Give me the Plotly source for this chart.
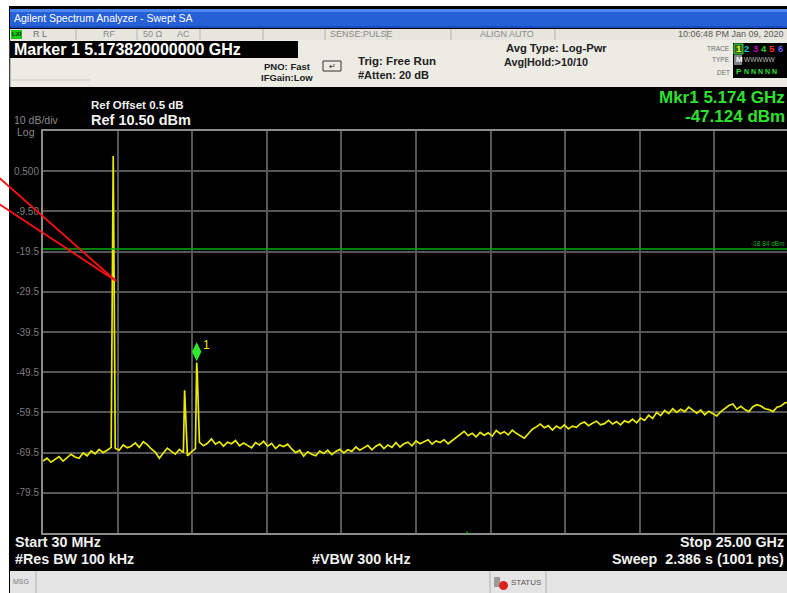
import numpy as np
import plotly.graph_objects as go

# ---------------- data ----------------
f_start_ghz = 0.03
f_stop_ghz = 25.0
ref_level_dbm = 10.5
db_per_div = 10
display_line_dbm = -18.84
marker_freq_ghz = 5.174
marker_level_dbm = -47.124

# swept noise floor (uniformly spaced from start to stop)
noise_dbm = [
    -71.6, -70.9, -71.9, -71.2, -70.5, -71.6, -70.8, -69.9, -70.6, -70.9,
    -69.6, -70.3, -69.1, -69.8, -68.7, -69.5, -68.9, -68.2, -68.4, -68.9,
    -67.6, -68.3, -67.9, -67.1, -68.2, -66.8, -67.5, -68.6, -69.4, -70.9,
    -69.6, -68.4, -69.2, -69.9, -68.7, -69.5, -70.3, -69.3, -68.5, -66.9,
    -67.8, -67.2, -66.1, -67.4, -66.8, -67.9, -66.9, -67.3, -66.5, -67.8,
    -67.1, -67.7, -68.3, -67.0, -67.6, -66.7, -67.9, -67.2, -68.5, -67.6,
    -68.0, -67.4, -68.6, -69.5, -68.9, -70.4, -69.3, -69.9, -70.3, -69.1,
    -69.7, -68.9, -70.0, -69.2, -68.7, -69.6, -68.8, -69.2, -68.1, -68.9,
    -68.4, -67.7, -68.8, -67.9, -67.4, -68.5, -67.6, -68.2, -67.0, -68.1,
    -67.3, -66.9, -67.8, -66.6, -67.3, -66.9, -66.3, -67.4, -66.6, -67.0,
    -66.3, -67.3, -66.5, -65.7, -64.8, -64.2, -65.3, -64.7, -65.6, -64.5,
    -65.2, -64.6, -65.4, -64.0, -64.8, -64.3, -65.1, -63.9, -64.7, -65.3,
    -65.9, -64.8, -63.7, -63.1, -62.4, -63.3, -62.8, -63.9, -62.9, -63.5,
    -62.6, -63.6, -62.9, -63.2, -62.3, -61.9, -62.8, -62.2, -61.7, -62.6,
    -62.3, -61.5, -62.4, -61.8, -62.6, -61.6, -62.0, -61.2, -62.1, -60.9,
    -61.5, -60.2, -61.0, -59.5, -60.3, -59.0, -59.8, -58.6, -59.5, -58.7,
    -59.3, -58.2, -59.0, -59.7, -58.9, -60.1, -59.2, -59.9, -60.4, -59.3,
    -58.5, -57.8, -57.4, -58.7, -58.0, -58.8, -59.3, -58.1, -57.6, -57.9,
    -58.6, -58.8, -59.3, -58.2, -57.9, -57.1, -57.0,
]
# spurious / carrier points
spike_freq_ghz = [2.380, 2.400, 2.410, 2.420, 2.435, 4.770, 5.174, 5.190]
spike_dbm = [4.3, -33.2, -34.0, -39.6, -52.5, -54.0, -47.124, -49.0]

y_tick_vals = [0.5, -9.5, -19.5, -29.5, -39.5, -49.5, -59.5, -69.5, -79.5]
y_tick_text = ["0.500", "-9.50", "-19.5", "-29.5", "-39.5", "-49.5", "-59.5", "-69.5", "-79.5"]

# ---------------- layout geometry ----------------
W, H = 787, 593
L, R, T, B = 43, 0, 131, 60
PW = W - L - R
PH = H - T - B
FONT = "Liberation Sans, Arial, sans-serif"


def px(x):
    return (x - L) / PW


def py(y):
    return (H - B - y) / PH


span = f_stop_ghz - f_start_ghz
n_div = 10
x_view_end = f_start_ghz + span * (PW / 746.0)  # right screen edge is slightly cut off
y_bottom = ref_level_dbm - n_div * db_per_div

noise_freq = np.linspace(f_start_ghz, f_stop_ghz, len(noise_dbm))
freq_all = np.concatenate([noise_freq, np.array(spike_freq_ghz)])
lvl_all = np.concatenate([np.array(noise_dbm), np.array(spike_dbm)])
order = np.argsort(freq_all)
freq_all = freq_all[order]
lvl_all = lvl_all[order]

shapes = []
annotations = []


def rect(x0, y0, x1, y1, fill, line_color=None, lw=0, layer="below"):
    shapes.append(dict(type="rect", xref="paper", yref="paper",
                       x0=px(x0), x1=px(x1), y0=py(y1), y1=py(y0),
                       fillcolor=fill, line=dict(color=line_color or fill, width=lw),
                       layer=layer))


def vline(x, y0, y1, color, w=1, layer="below"):
    shapes.append(dict(type="line", xref="paper", yref="paper",
                       x0=px(x), x1=px(x), y0=py(y0), y1=py(y1),
                       line=dict(color=color, width=w), layer=layer))


def seg(x0, y0, x1, y1, color, w=1, layer="above"):
    shapes.append(dict(type="line", xref="paper", yref="paper",
                       x0=px(x0), x1=px(x1), y0=py(y0), y1=py(y1),
                       line=dict(color=color, width=w), layer=layer))


def txt(x, y, s, size=10, color="white", anchor="left", bold=False, family=FONT):
    annotations.append(dict(x=px(x), y=py(y), xref="paper", yref="paper",
                            text=f"<b>{s}</b>" if bold else s, showarrow=False,
                            xanchor=anchor, yanchor="middle", borderpad=0,
                            font=dict(size=size, color=color, family=family)))


# window frame
rect(9, 6, 787, 593, "#000000")
# title bar
rect(10, 9, 787, 28, "#2660d6")
rect(10, 9, 787, 12, "#4d88ee")
rect(10, 26, 787, 28, "#1b4cbf")
txt(13, 18.5, "Agilent Spectrum Analyzer - Swept SA", size=10.5, color="white")
# status row
rect(10, 29, 787, 40, "#e6e5de")
for sx in [76, 137, 200, 263, 325, 387, 451, 555]:
    vline(sx, 29, 40, "#b4b4ac", 1)
rect(11, 30, 22, 39, "#18c818")
txt(11, 34.5, "LXI", size=6, color="#003300", bold=True)
txt(32, 34.5, "R L", size=9, color="#6e6e6e")
txt(102, 34.5, "RF", size=9, color="#8a8a8a")
txt(142, 34.5, "50 Ω", size=9, color="#8a8a8a")
txt(176, 34.5, "AC", size=9, color="#8a8a8a")
txt(329, 34.5, "SENSE:PULSE", size=9, color="#8a8a8a")
txt(479, 34.5, "ALIGN AUTO", size=9, color="#8a8a8a")
txt(785, 34.5, "10:06:48 PM Jan 09, 2020", size=9, color="#5a5a5a", anchor="right")
# info area
rect(10, 40, 787, 87, "#ecebe4")
vline(10, 40, 87, "#808080", 1)
rect(10, 41, 298, 58, "#000000")
txt(13, 49.5, "Marker 1 5.173820000000 GHz", size=16, color="white", bold=True)
seg(10, 80, 90, 80, "#c8c8c0", 1, layer="below")
txt(287, 66, "PNO: Fast", size=9.5, color="#222222", bold=True, anchor="center")
txt(287, 77, "IFGain:Low", size=9.5, color="#222222", bold=True, anchor="center")
shapes.append(dict(type="rect", xref="paper", yref="paper", x0=px(323), x1=px(341),
                   y0=py(71), y1=py(61), line=dict(color="#333333", width=1),
                   fillcolor="#ecebe4", layer="below"))
txt(332, 66.5, "↵", size=8, color="#222222", anchor="center")
txt(357, 61, "Trig: Free Run", size=11.5, color="#222222", bold=True)
txt(357, 75, "#Atten: 20 dB", size=11, color="#222222", bold=True)
txt(505, 48, "Avg Type: Log-Pwr", size=11.2, color="#222222", bold=True)
txt(503, 62, "Avg|Hold:>10/10", size=10.8, color="#222222", bold=True)
# trace box
txt(731, 48, "TRACE", size=6.5, color="#6a6a6a", anchor="right")
txt(731, 60, "TYPE", size=6.5, color="#6a6a6a", anchor="right")
txt(731, 72, "DET", size=6.5, color="#6a6a6a", anchor="right")
rect(733, 43, 787, 78, "#000000")
rect(734, 44, 743, 54, "#2a6a2a", "#40d040", 1)
for i, (d, c) in enumerate(zip("123456", ["#f0f000", "#00c8c8", "#c000c0", "#30d030", "#ff3030", "#6060ff"])):
    txt(735 + 8.3 * i, 49, d, size=9.5, color=c, bold=True)
rect(734, 55, 742, 65, "#808080")
txt(735, 60, "M", size=8, color="white", bold=True)
txt(743, 60, "WWWWW", size=6.5, color="#bbbbbb")
txt(735, 71.5, "P", size=8, color="#30e030", bold=True)
txt(743, 71.5, "N N N N N", size=7, color="#30e030", bold=True)

# upper screen text
txt(90, 105, "Ref Offset 0.5 dB", size=11.5, color="#f0f0f0", bold=True)
txt(90, 120, "Ref 10.50 dBm", size=14.5, color="#f0f0f0", bold=True)
txt(13, 120, "10 dB/div", size=10.5, color="#8a8a8a")
txt(16, 131.5, "Log", size=10.5, color="#8a8a8a")
txt(786, 97, "Mkr1 5.174 GHz", size=17, color="#2fe02f", bold=True, anchor="right")
txt(786, 116, "-47.124 dBm", size=17, color="#2fe02f", bold=True, anchor="right")

# lower screen text
txt(14, 542, "Start 30 MHz", size=14.3, color="#f0f0f0", bold=True)
txt(14, 559, "#Res BW 100 kHz", size=14.3, color="#f0f0f0", bold=True)
txt(311, 559, "#VBW 300 kHz", size=14.3, color="#f0f0f0", bold=True)
txt(785, 542, "Stop 25.00 GHz", size=14.3, color="#f0f0f0", bold=True, anchor="right")
txt(785, 559, "Sweep  2.386 s (1001 pts)", size=14.3, color="#f0f0f0", bold=True, anchor="right")
txt(467, 535, "^", size=9, color="#20c020", anchor="center")

# message bar
rect(10, 571, 787, 593, "#e4e4e4")
vline(36, 571, 593, "#b0b0b0", 1)
vline(490, 571, 593, "#b0b0b0", 1)
vline(546, 571, 593, "#b0b0b0", 1)
txt(12, 581, "MSG", size=7, color="#7a7a7a")
rect(494, 577, 500, 587, "#9a9a9a")
shapes.append(dict(type="circle", xref="paper", yref="paper", x0=px(499), x1=px(508),
                   y0=py(590), y1=py(581), fillcolor="#e02020", line=dict(color="#e02020", width=0),
                   layer="below"))
txt(510, 582, "STATUS", size=8, color="#555555")

# display line label
txt(786, 243, "-18.84 dBm", size=6.5, color="#18b018", anchor="right")

# display line in data coords
shapes.append(dict(type="line", xref="paper", yref="y", x0=0, x1=1,
                   y0=display_line_dbm, y1=display_line_dbm,
                   line=dict(color="#00b000", width=1.5), layer="above"))

# red annotation lines drawn on the screenshot
seg(-4, 175, 116, 281, "#ff1010", 1.8)
seg(-4, 202, 116, 281, "#ff1010", 1.8)

fig = go.Figure()
fig.add_trace(go.Scatter(x=freq_all, y=lvl_all, mode="lines",
                         line=dict(color="#eaea00", width=1.7),
                         hoverinfo="skip", showlegend=False))
marker_offset_db = 2.7
fig.add_trace(go.Scatter(x=[marker_freq_ghz], y=[marker_level_dbm + marker_offset_db], mode="markers",
                         marker=dict(symbol="diamond-tall", size=13.5, color="#2ee82e",
                                     line=dict(width=0)),
                         hoverinfo="skip", showlegend=False))
annotations.append(dict(x=marker_freq_ghz, y=marker_level_dbm, xref="x", yref="y",
                        text="1", showarrow=False, xshift=10, yshift=18,
                        font=dict(size=12, color="#e8e800", family=FONT)))

x_grid = [f_start_ghz + k * span / n_div for k in range(1, n_div)]

fig.update_layout(
    width=W, height=H,
    margin=dict(l=L, r=R, t=T, b=B, autoexpand=False),
    paper_bgcolor="#ffffff",
    plot_bgcolor="rgba(0,0,0,0)",
    shapes=shapes,
    annotations=annotations,
    xaxis=dict(range=[f_start_ghz, x_view_end], tickvals=x_grid, showticklabels=False,
               showgrid=True, gridcolor="#565656", gridwidth=1.6, zeroline=False,
               showline=True, linecolor="#8c8c8c", linewidth=2, mirror=True, ticks=""),
    yaxis=dict(range=[y_bottom, ref_level_dbm], tickvals=y_tick_vals, ticktext=y_tick_text,
               showgrid=True, gridcolor="#565656", gridwidth=1.6, zeroline=False,
               showline=True, linecolor="#8c8c8c", linewidth=2, mirror=False, ticks="",
               tickfont=dict(size=10, color="#7c7c7c", family=FONT)),
)

fig.write_html("out.html", config={"displayModeBar": False},
               post_script="document.body.style.margin='0px';document.body.style.overflow='hidden';")
